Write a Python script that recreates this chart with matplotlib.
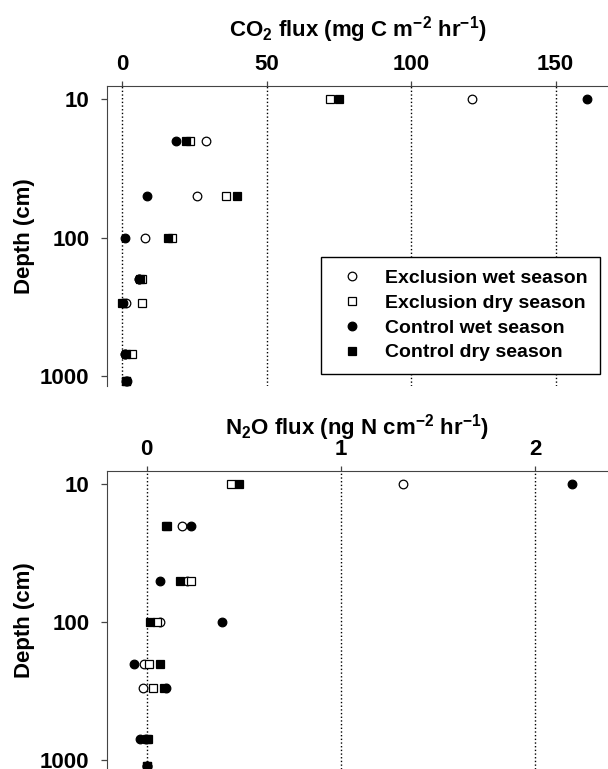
"""
Depth profiles of CO2 and N2O flux, exclusion vs control plots
"""

import matplotlib
matplotlib.use('Agg')
import matplotlib.pyplot as plt
from matplotlib.ticker import FixedLocator, NullLocator

plt.rcParams['font.family'] = 'Liberation Sans'
plt.rcParams['font.weight'] = 'bold'
plt.rcParams['mathtext.fontset'] = 'custom'
plt.rcParams['mathtext.rm'] = 'Liberation Sans:bold'
plt.rcParams['mathtext.bf'] = 'Liberation Sans:bold'
plt.rcParams['mathtext.default'] = 'bf'

depth = [10, 20, 50, 100, 200, 300, 700, 1100]
labels = ['Exclusion wet season', 'Exclusion dry season',
          'Control wet season', 'Control dry season']

# CO2 flux (mg C m-2 hr-1)
co2_excl_wet = [120.9, 29.2, 26.0, 8.0, 6.0, 1.5, 1.0, 1.5]
co2_excl_dry = [71.9, 23.5, 35.9, 17.2, 7.0, 7.0, 3.3, 1.5]
co2_ctrl_wet = [161.0, 18.8, 8.8, 1.1, 5.8, 0.3, 1.0, 1.8]
co2_ctrl_dry = [74.9, 22.1, 39.9, 15.8, 6.3, 0.0, 1.5, 1.3]

# N2O flux (ng N cm-2 hr-1)
n2o_excl_wet = [1.32, 0.18, 0.21, 0.07, -0.014, -0.019, -0.005, 0.0]
n2o_excl_dry = [0.437, 0.10, 0.227, 0.054, 0.012, 0.032, 0.0, 0.0]
n2o_ctrl_wet = [2.19, 0.231, 0.07, 0.389, -0.065, 0.10, -0.032, 0.003]
n2o_ctrl_dry = [0.477, 0.104, 0.17, 0.018, 0.068, 0.09, 0.007, 0.0]

styles = [('o', 'white'), ('s', 'white'), ('o', 'black'), ('s', 'black')]

W, H = 608, 769
fig = plt.figure(figsize=(W / 100, H / 100), dpi=100)

ax1 = fig.add_axes([106.7 / W, 1 - 386 / H, (W - 106.7) / W, 300 / H])
ax2 = fig.add_axes([106.7 / W, 0, (W - 106.7) / W, (H - 470.7) / H])


def draw(ax, series, xlim, ylim, xticks, title, labelpad):
    for vals, (m, fc), lab in zip(series, styles, labels):
        ax.plot(vals, depth, linestyle='none', marker=m, ms=6.2,
                mfc=fc, mec='black', mew=0.9, label=lab)
    ax.set_yscale('log')
    ax.set_xlim(*xlim)
    ax.set_ylim(*ylim)
    ax.yaxis.set_major_locator(FixedLocator([10, 100, 1000]))
    ax.yaxis.set_minor_locator(NullLocator())
    ax.set_yticklabels(['10', '100', '1000'])
    ax.xaxis.tick_top()
    ax.xaxis.set_label_position('top')
    ax.set_xticks(xticks)
    ax.set_xticklabels([str(t) for t in xticks])
    ax.tick_params(axis='x', length=3.6, width=0.9, pad=4,
                   labelsize=16, color='#444444')
    ax.tick_params(axis='y', length=4.3, width=0.9, pad=8,
                   labelsize=16, color='#444444')
    ax.grid(axis='x', linestyle=':', color='black', lw=1.0)
    ax.spines['right'].set_visible(False)
    ax.spines['bottom'].set_visible(False)
    ax.spines['top'].set_color('#444444')
    ax.spines['left'].set_color('#444444')
    ax.set_xlabel(title, fontsize=16, fontweight='bold', labelpad=labelpad)
    ax.set_ylabel('Depth (cm)', fontsize=16, fontweight='bold', labelpad=4)


draw(ax1, [co2_excl_wet, co2_excl_dry, co2_ctrl_wet, co2_ctrl_dry],
     (-5.3, 168.1), (1189, 8.0), [0, 50, 100, 150],
     r'CO$_{2}$ flux (mg C m$^{-2}$ hr$^{-1}$)', 13)
draw(ax2, [n2o_excl_wet, n2o_excl_dry, n2o_ctrl_wet, n2o_ctrl_dry],
     (-0.205, 2.375), (1156, 7.97), [0, 1, 2],
     r'N$_{2}$O flux (ng N cm$^{-2}$ hr$^{-1}$)', 3)

leg = ax1.legend(loc='lower right', bbox_to_anchor=(0.984, 0.04),
                 fontsize=14, frameon=True, fancybox=False,
                 handlelength=1.9, handletextpad=0.72, borderpad=0.65,
                 labelspacing=0.37, borderaxespad=0)
leg.get_frame().set_edgecolor('black')
leg.get_frame().set_linewidth(1.0)
leg.get_frame().set_alpha(1)
for t in leg.get_texts():
    t.set_fontweight('bold')

fig.savefig('out.png', dpi=100)
